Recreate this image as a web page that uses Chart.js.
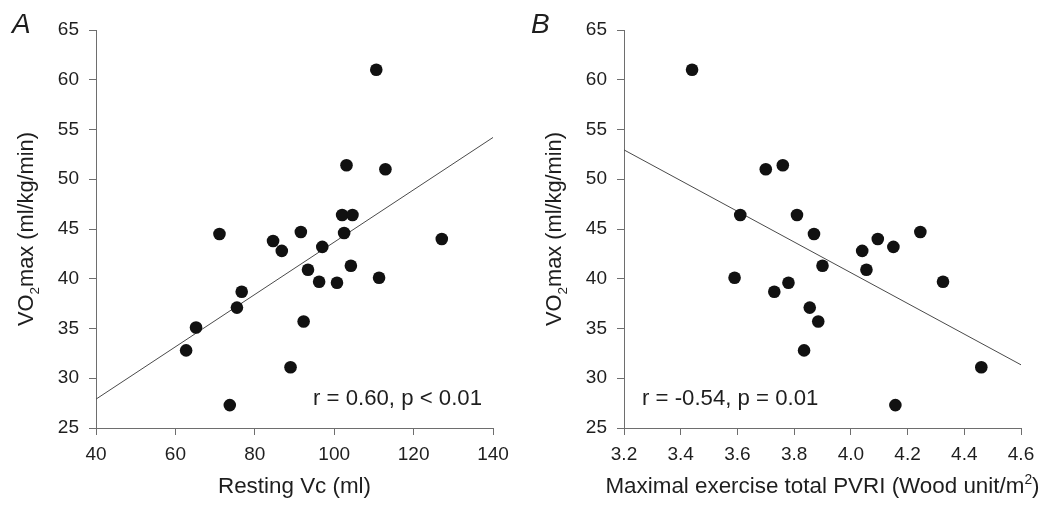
<!DOCTYPE html>
<html>
<head>
<meta charset="utf-8">
<script src="https://cdn.jsdelivr.net/npm/chart.js@4"></script>
<style>
  html, body { margin: 0; padding: 0; background: #fff; }
  #wrap { position: relative; width: 1043px; height: 506px; }
  .pane { position: absolute; top: 0; height: 506px; }
</style>
</head>
<body>
<div id="wrap">
  <div class="pane" style="left:0;width:520px"><canvas id="cA"></canvas></div>
  <div class="pane" style="left:520px;width:523px"><canvas id="cB"></canvas></div>
</div>
<script>
// ---- Panel A data: Resting Vc (ml) vs VO2max ----
const vcA = [110.6, 103.1, 112.9, 102.0, 104.6, 102.5, 71.1, 91.6, 84.6, 86.8, 97.0, 127.1,
             93.4, 104.2, 111.3, 96.2, 100.7, 76.7, 75.5, 65.2, 92.3, 62.7, 89.0, 73.7];
const vo2A = [61.0, 51.4, 51.0, 46.4, 46.4, 44.6, 44.5, 44.7, 43.8, 42.8, 43.2, 44.0,
              40.9, 41.3, 40.1, 39.7, 39.6, 38.7, 37.1, 35.1, 35.7, 32.8, 31.1, 27.3];
const fitAx = [40, 140];
const fitAy = [27.9, 54.2];
const ticksAx = [40, 60, 80, 100, 120, 140];

// ---- Panel B data: Maximal exercise total PVRI vs VO2max ----
const pvriB = [3.44, 3.70, 3.76, 3.61, 3.81, 3.87, 3.59, 3.73, 3.78, 3.90, 3.855,
               3.885, 3.835, 4.04, 4.055, 4.095, 4.15, 4.245, 4.325, 4.46, 4.157];
const vo2B = [61.0, 51.0, 51.4, 46.4, 46.4, 44.5, 40.1, 38.7, 39.6, 41.3, 37.1,
              35.7, 32.8, 42.8, 40.9, 44.0, 43.2, 44.7, 39.7, 31.1, 27.3];
const fitBx = [3.2, 4.6];
const fitBy = [52.95, 31.35];
const ticksBx = [3.2, 3.4, 3.6, 3.8, 4.0, 4.2, 4.4, 4.6];

const ticksY = [25, 30, 35, 40, 45, 50, 55, 60, 65];

const FONT = "'Liberation Sans', Arial, sans-serif";
const AXIS = '#6e6e6e';
const TEXT = '#1e1e1e';

function pts(xs, ys) { return xs.map((x, i) => ({ x: x, y: ys[i] })); }

// draws text with sub/superscript segments: parts = [[text, mode]], mode: 0 normal, 1 sub, 2 sup
function richWidth(ctx, parts, size) {
  let w = 0;
  parts.forEach(p => {
    ctx.font = (p[1] ? size * 0.62 : size) + 'px ' + FONT;
    w += ctx.measureText(p[0]).width;
  });
  return w;
}
function drawRich(ctx, parts, size, x, y) {
  let cx = x;
  parts.forEach(p => {
    const s = p[1] ? size * 0.62 : size;
    ctx.font = s + 'px ' + FONT;
    const dy = p[1] === 1 ? size * 0.28 : (p[1] === 2 ? -size * 0.42 : 0);
    ctx.fillText(p[0], cx, y + dy);
    cx += ctx.measureText(p[0]).width;
  });
}

function makeChart(id, cfg) {
  const deco = {
    id: 'deco',
    afterDraw(chart) {
      const ctx = chart.ctx;
      const a = chart.chartArea;
      ctx.save();
      ctx.fillStyle = TEXT;
      ctx.textBaseline = 'alphabetic';
      ctx.textAlign = 'left';
      // panel letter
      ctx.font = 'italic 28px ' + FONT;
      ctx.fillText(cfg.letter, cfg.letterX, 33);
      // x title
      const xw = richWidth(ctx, cfg.xTitle, 22.4);
      drawRich(ctx, cfg.xTitle, 22.4, (a.left + a.right) / 2 - xw / 2, 493);
      // y title (rotated)
      const yParts = [['VO', 0], ['2', 1], ['max (ml/kg/min)', 0]];
      const yw = richWidth(ctx, yParts, 21.8);
      ctx.save();
      ctx.translate(cfg.yTitleX, (a.top + a.bottom) / 2);
      ctx.rotate(-Math.PI / 2);
      drawRich(ctx, yParts, 21.8, -yw / 2, 0);
      ctx.restore();
      // correlation text
      ctx.font = '22.2px ' + FONT;
      ctx.fillText(cfg.note, cfg.noteX, 405);
      ctx.restore();
    }
  };
  return new Chart(document.getElementById(id), {
    data: {
      datasets: [
        {
          type: 'scatter',
          data: pts(cfg.xs, cfg.ys),
          pointRadius: 6.3,
          pointHoverRadius: 6.3,
          pointBackgroundColor: '#111',
          pointBorderColor: '#111',
          pointBorderWidth: 0,
          clip: false,
          order: 1
        },
        {
          type: 'line',
          data: pts(cfg.fitX, cfg.fitY),
          borderColor: '#4a4a4a',
          borderWidth: 1,
          pointRadius: 0,
          fill: false,
          tension: 0,
          order: 2
        }
      ]
    },
    options: {
      responsive: false,
      animation: false,
      devicePixelRatio: 1,
      layout: { padding: { left: 0, right: cfg.padRight, top: 30, bottom: 0 } },
      plugins: { legend: { display: false }, tooltip: { enabled: false } },
      scales: {
        x: {
          type: 'linear',
          min: cfg.xTicks[0],
          max: cfg.xTicks[cfg.xTicks.length - 1],
          afterBuildTicks(scale) { scale.ticks = cfg.xTicks.map(v => ({ value: v })); },
          afterFit(scale) { scale.height = 78; },
          ticks: {
            color: TEXT,
            font: { family: FONT, size: 19 },
            padding: 8,
            maxRotation: 0,
            autoSkip: false,
            callback: cfg.xFmt
          },
          grid: { display: true, drawOnChartArea: false, drawTicks: true, tickLength: 7, color: AXIS, lineWidth: 1 },
          border: { display: true, color: AXIS, width: 1 }
        },
        y: {
          type: 'linear',
          min: 25,
          max: 65,
          afterBuildTicks(scale) { scale.ticks = ticksY.map(v => ({ value: v })); },
          afterFit(scale) { scale.width = cfg.yWidth; },
          ticks: {
            color: TEXT,
            font: { family: FONT, size: 19 },
            padding: 10,
            autoSkip: false
          },
          grid: { display: true, drawOnChartArea: false, drawTicks: true, tickLength: 7, color: AXIS, lineWidth: 1 },
          border: { display: true, color: AXIS, width: 1 }
        }
      }
    },
    plugins: [deco]
  });
}

const cA = document.getElementById('cA');
cA.width = 520; cA.height = 506;
const cB = document.getElementById('cB');
cB.width = 523; cB.height = 506;

makeChart('cA', {
  xs: vcA, ys: vo2A, fitX: fitAx, fitY: fitAy, xTicks: ticksAx,
  xFmt: v => String(v),
  yWidth: 96, padRight: 27,
  letter: 'A', letterX: 12,
  xTitle: [['Resting Vc (ml)', 0]],
  yTitleX: 33,
  note: 'r = 0.60, p < 0.01', noteX: 313
});
makeChart('cB', {
  xs: pvriB, ys: vo2B, fitX: fitBx, fitY: fitBy, xTicks: ticksBx,
  xFmt: v => Number(v).toFixed(1),
  yWidth: 104, padRight: 22,
  letter: 'B', letterX: 11,
  xTitle: [['Maximal exercise total PVRI (Wood unit/m', 0], ['2', 2], [')', 0]],
  yTitleX: 41,
  note: 'r = -0.54, p = 0.01', noteX: 122
});
</script>
</body>
</html>
